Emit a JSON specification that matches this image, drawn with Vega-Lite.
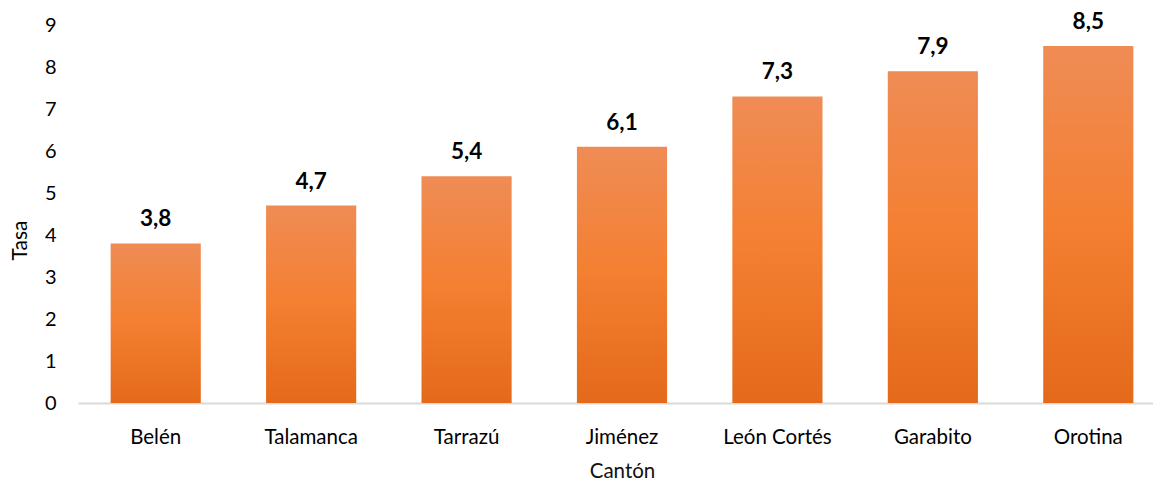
{
  "$schema": "https://vega.github.io/schema/vega-lite/v6.json",
  "autosize": {"type": "none"},
  "padding": {"left": 78, "top": 25, "right": 0, "bottom": 78},
  "width": 1088,
  "height": 378,
  "background": "white",
  "config": {
    "view": {"stroke": null},
    "locale": {"number": {"decimal": ",", "thousands": ".", "grouping": [3], "currency": ["", ""]}},
    "font": "Lato"
  },
  "data": {"values": [
    {"canton": "Belén", "tasa": 3.8},
    {"canton": "Talamanca", "tasa": 4.7},
    {"canton": "Tarrazú", "tasa": 5.4},
    {"canton": "Jiménez", "tasa": 6.1},
    {"canton": "León Cortés", "tasa": 7.3},
    {"canton": "Garabito", "tasa": 7.9},
    {"canton": "Orotina", "tasa": 8.5}
  ]},
  "encoding": {
    "x": {"field": "canton", "type": "nominal", "sort": null,
      "scale": {"paddingInner": 0.42, "paddingOuter": 0.21},
      "axis": {"title": "Cantón", "labelAngle": 0, "labelFontSize": 20.5, "titleFontSize": 20.5, "titleFontWeight": "normal",
        "labelColor": "#000", "titleColor": "#111", "domainColor": "#D9D9D9", "domainWidth": 2, "ticks": false,
        "labelPadding": 24, "titlePadding": 14, "labelFont": "Lato", "titleFont": "Lato"}},
    "y": {"field": "tasa", "type": "quantitative",
      "scale": {"domain": [0, 9], "nice": false},
      "axis": {"title": "Tasa", "values": [0,1,2,3,4,5,6,7,8,9], "format": "d", "grid": false, "domain": false, "ticks": false,
        "labelFontSize": 20, "titleFontSize": 21, "titleFontWeight": "normal", "labelColor": "#000", "titleColor": "#000",
        "titleFont": "Lato", "titleY": 215, "titleX": -58, "titleAlign": "center", "titleAngle": 270, "titleBaseline": "middle",
        "labelPadding": 22, "titlePadding": 14}}
  },
  "layer": [
    {"mark": {"type": "bar", "color": {"gradient": "linear", "x1": 0, "y1": 0, "x2": 0, "y2": 1,
      "stops": [{"offset": 0, "color": "#EF8C55"}, {"offset": 0.5, "color": "#F47F30"}, {"offset": 1, "color": "#E4691B"}]}}},
    {"mark": {"type": "text", "dy": -24, "fontSize": 22.5, "fontWeight": "bold", "color": "#000", "font": "Lato"},
      "encoding": {"text": {"field": "tasa", "type": "quantitative", "format": ".1f"}}}
  ]
}
